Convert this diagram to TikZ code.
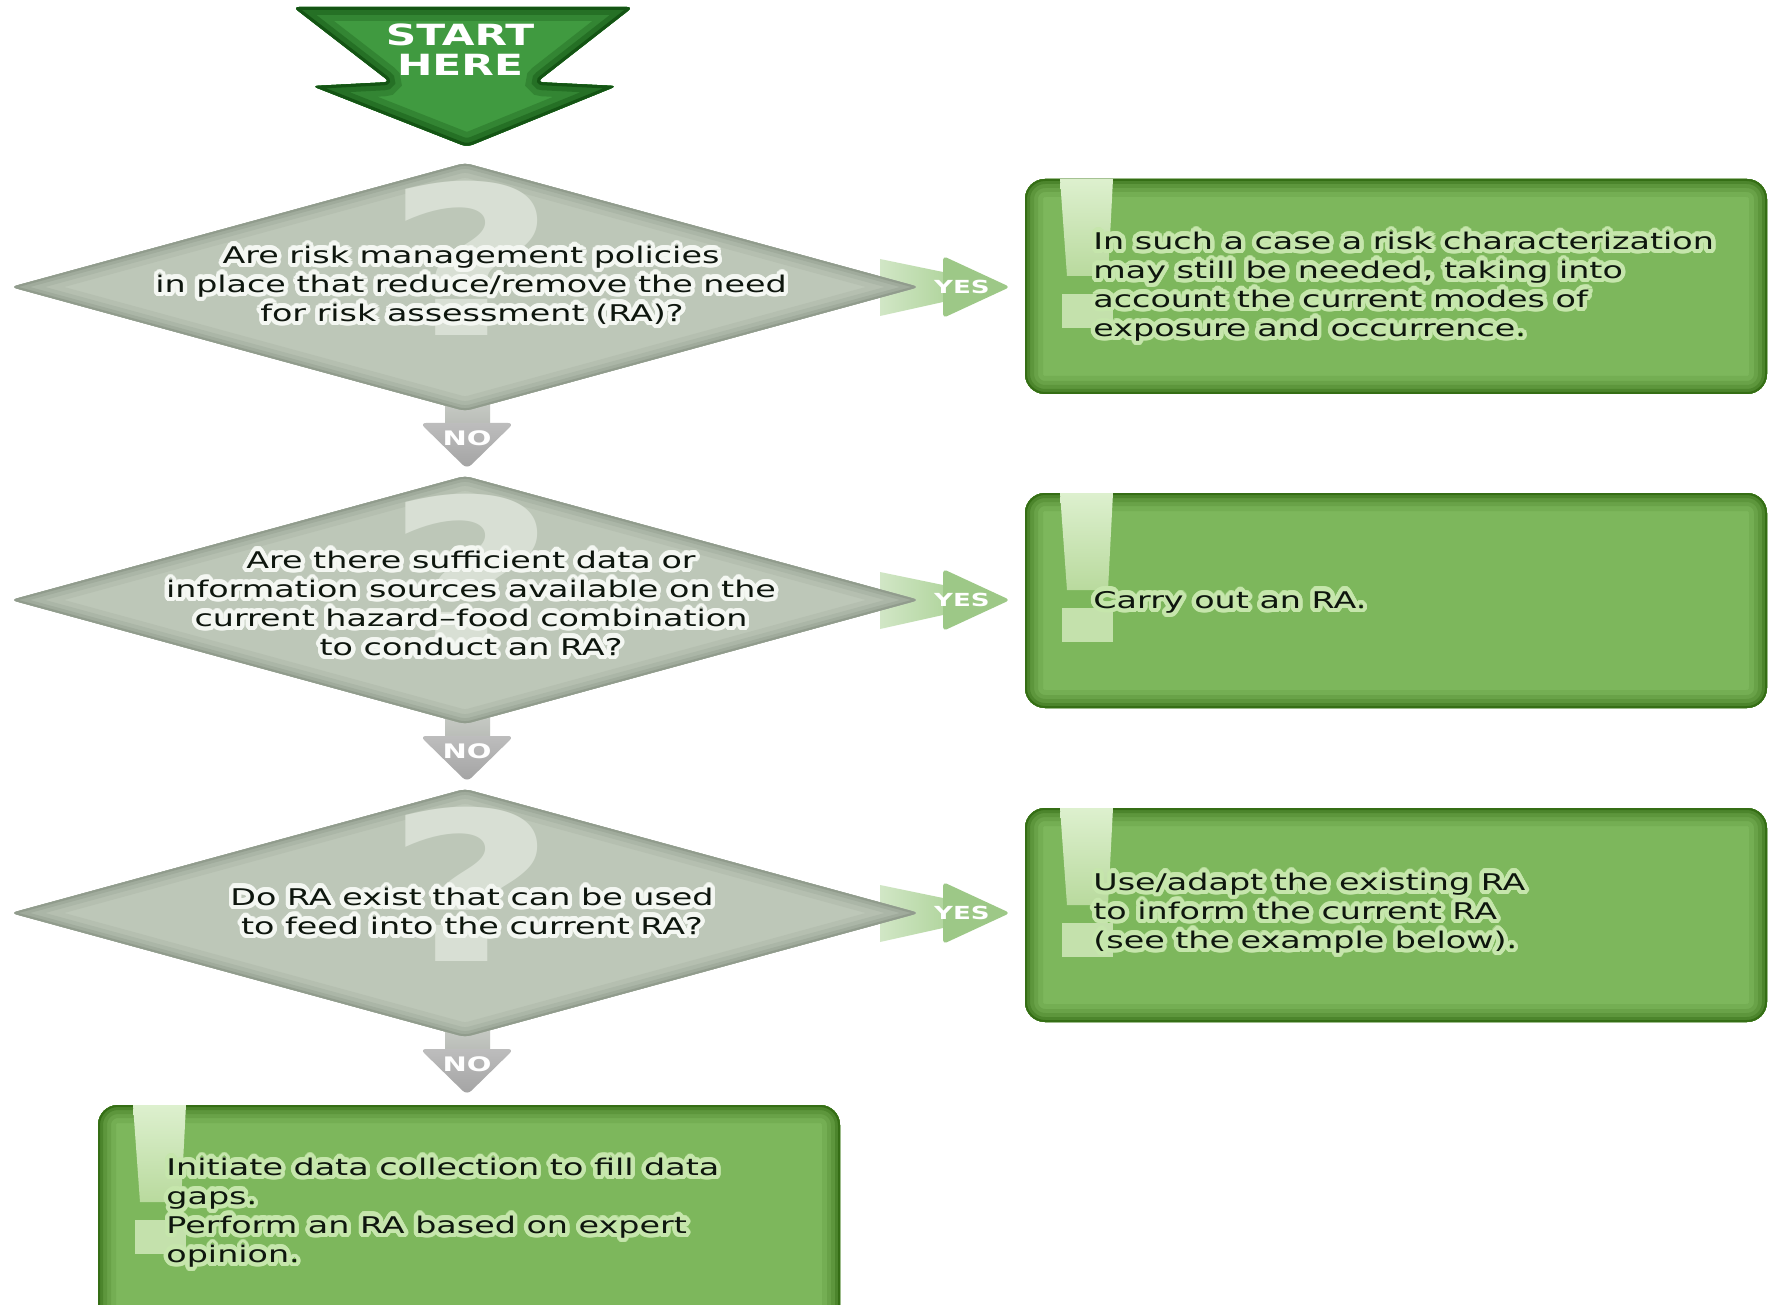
\documentclass[tikz,border=0pt]{standalone}
\usepackage{fontspec}
\usepackage{contour}
\setmainfont{DejaVu Sans}
\newfontfamily\bodyfont[FakeStretch=1.45]{DejaVu Sans}
\newfontfamily\qfont[FakeStretch=1.42]{DejaVu Sans}
\usetikzlibrary{calc}
\contourlength{2.2pt}
\contournumber{24}
\definecolor{diafill}{HTML}{BDC7B8}
\definecolor{diaedge}{HTML}{919C8D}
\definecolor{qmark}{HTML}{D8DFD4}
\definecolor{boxfill}{HTML}{7DB75C}
\definecolor{boxedge}{HTML}{356E15}
\definecolor{excltop}{HTML}{DDF0CE}
\definecolor{exclbot}{HTML}{B9DA9E}
\definecolor{yesA}{HTML}{B3D6A0}
\definecolor{yesB}{HTML}{9DC887}
\definecolor{stemtop}{HTML}{C8CCC6}
\definecolor{stembot}{HTML}{B9BCB7}
\definecolor{notop}{HTML}{BDBDBD}
\definecolor{nobot}{HTML}{A3A3A3}
\definecolor{startdark}{HTML}{145414}
\definecolor{startfill}{HTML}{409A40}
\definecolor{glowwhite}{HTML}{F4F7F2}
\definecolor{glowgreen}{HTML}{C6E6AC}
\definecolor{txt}{HTML}{0E160E}
\newcommand\glowW[1]{\contour{glowwhite}{#1}}
\newcommand\glowG[1]{\contour{glowgreen}{#1}}
% green box with exclamation mark
\newcommand\gbox[4]{%
  \fill[boxedge,rounded corners=10pt] (#1,#2) rectangle (#3,#4);
  \begin{scope}
    \clip[rounded corners=10pt] (#1,#2) rectangle (#3,#4);
    \fill[boxfill] (#1,#2) rectangle (#3,#4);
    \draw[line width=18pt,boxfill!88!boxedge,rounded corners=10pt] (#1,#2) rectangle (#3,#4);
    \draw[line width=13pt,boxfill!72!boxedge,rounded corners=10pt] (#1,#2) rectangle (#3,#4);
    \draw[line width=9pt,boxfill!55!boxedge,rounded corners=10pt] (#1,#2) rectangle (#3,#4);
    \draw[line width=5pt,boxfill!32!boxedge,rounded corners=10pt] (#1,#2) rectangle (#3,#4);
    \draw[line width=2pt,boxedge,rounded corners=10pt] (#1,#2) rectangle (#3,#4);
  \end{scope}
  \shade[top color=excltop,bottom color=exclbot] (#1+35,#2) -- (#1+88,#2) -- (#1+83,#2+97) -- (#1+42,#2+97) -- cycle;
  \fill[exclbot!70!excltop] (#1+37,#2+115) rectangle (#1+88,#2+149);
}
% grey decision diamond with question mark
\newcommand\qdia[3]{%
  \coordinate (#1) at (#2,#3);
  \begin{scope}[shift={(#2,#3)}]
    \begin{scope}
      \clip[rounded corners=3pt] (-454,0) -- (0,-124) -- (454,0) -- (0,124) -- cycle;
      \fill[diafill] (-460,-130) rectangle (460,130);
      \draw[line width=14pt,diafill!82!diaedge,rounded corners=3pt] (-454,0) -- (0,-124) -- (454,0) -- (0,124) -- cycle;
      \draw[line width=9pt,diafill!60!diaedge,rounded corners=3pt] (-454,0) -- (0,-124) -- (454,0) -- (0,124) -- cycle;
      \draw[line width=5pt,diafill!35!diaedge,rounded corners=3pt] (-454,0) -- (0,-124) -- (454,0) -- (0,124) -- cycle;
      \draw[line width=2pt,diaedge,rounded corners=3pt] (-454,0) -- (0,-124) -- (454,0) -- (0,124) -- cycle;
    \end{scope}
    \node[qm] (#1q) at (6,-29) {?};
  \end{scope}
}
% YES block arrow
\newcommand\yesarrow[1]{%
  \shade[left color=yesA!60!white,right color=yesA] (880,#1-28) -- (943,#1-15) -- (943,#1+15) -- (880,#1+29) -- cycle;
  \fill[yesB,rounded corners=2pt] (943,#1-31) -- (1010,#1) -- (943,#1+31) -- cycle;
}
% NO block arrow
\newcommand\noarrow[1]{%
  \shade[top color=stemtop,bottom color=stembot] (445,#1+112) rectangle (490,#1+138);
  \shade[top color=notop,bottom color=nobot,rounded corners=3pt] (420,#1+136) -- (514,#1+136) -- (467,#1+182) -- cycle;
}
\begin{document}
\begin{tikzpicture}[x=0.5pt,y=-0.5pt,
  dline/.style={inner sep=0pt,text=txt,text height=8.6pt,text depth=2.4pt,font=\bodyfont\fontsize{11.5}{14.5}\selectfont},
  bline/.style={dline,anchor=west},
  qm/.style={inner sep=0pt,text=qmark,font=\qfont\bfseries\fontsize{104}{104}\selectfont},
  starttext/.style={align=center,inner sep=0pt,text=white,font=\bodyfont\bfseries\fontsize{14.6}{15}\selectfont},
  notext/.style={inner sep=0pt,text=white,font=\bodyfont\bfseries\fontsize{10}{10}\selectfont},
  yestext/.style={inner sep=0pt,text=white,font=\bodyfont\bfseries\fontsize{9}{10}\selectfont}]
\useasboundingbox (0,0) rectangle (1774,1305);
\begin{scope}
\clip (0,0) rectangle (1774,1305);
\fill[white] (0,0) rectangle (1774,1305);
% start arrow
\begin{scope}
  \clip[rounded corners=3pt] (293,7) -- (633,7) -- (537,82) -- (617,86) -- (467,147) -- (312,86) -- (390,82) -- cycle;
  \fill[startfill] (280,0) rectangle (650,160);
  \draw[line width=14pt,startfill!70!startdark,rounded corners=3pt] (293,7) -- (633,7) -- (537,82) -- (617,86) -- (467,147) -- (312,86) -- (390,82) -- cycle;
  \draw[line width=8pt,startfill!40!startdark,rounded corners=3pt] (293,7) -- (633,7) -- (537,82) -- (617,86) -- (467,147) -- (312,86) -- (390,82) -- cycle;
  \draw[line width=3pt,startdark,rounded corners=3pt] (293,7) -- (633,7) -- (537,82) -- (617,86) -- (467,147) -- (312,86) -- (390,82) -- cycle;
\end{scope}
% block arrows (under the diamonds)
\yesarrow{287}
\yesarrow{600}
\yesarrow{913}
\noarrow{287}
\noarrow{600}
\noarrow{913}
% diamonds
\qdia{d1}{465}{287}
\qdia{d2}{465}{600}
\qdia{d3}{465}{913}
% result boxes
\gbox{1025}{179}{1767}{394}
\gbox{1025}{493}{1767}{708}
\gbox{1025}{808}{1767}{1022}
\gbox{98}{1105}{840}{1345}
\end{scope}

% labels of the block arrows
\node[starttext] (start) at (460,50) {START\\HERE};
\node[yestext] (yes1) at (962,287) {YES};
\node[yestext] (yes2) at (962,600) {YES};
\node[yestext] (yes3) at (962,913) {YES};
\node[notext] (no1) at (467,438) {NO};
\node[notext] (no2) at (467,751) {NO};
\node[notext] (no3) at (467,1064) {NO};

% questions
\node[dline] (t1a) at (471,257) {\glowW{Are risk management policies}};
\node[dline] (t1b) at (471,286) {\glowW{in place that reduce/remove the need}};
\node[dline] (t1c) at (472,315) {\glowW{for risk assessment (RA)?}};
\node[dline] (t2a) at (471,562) {\glowW{Are there sufficient data or}};
\node[dline] (t2b) at (471,591) {\glowW{information sources available on the}};
\node[dline] (t2c) at (471,620) {\glowW{current hazard–food combination}};
\node[dline] (t2d) at (471,649) {\glowW{to conduct an RA?}};
\node[dline] (t3a) at (472,899) {\glowW{Do RA exist that can be used}};
\node[dline] (t3b) at (472,928) {\glowW{to feed into the current RA?}};

% answers
\node[bline] (b1a) at (1093,243) {\glowG{In such a case a risk characterization}};
\node[bline] (b1b) at (1093,272) {\glowG{may still be needed, taking into}};
\node[bline] (b1c) at (1093,301) {\glowG{account the current modes of}};
\node[bline] (b1d) at (1093,330) {\glowG{exposure and occurrence.}};
\node[bline] (b2a) at (1093,602) {\glowG{Carry out an RA.}};
\node[bline] (b3a) at (1093,884) {\glowG{Use/adapt the existing RA}};
\node[bline] (b3b) at (1093,913) {\glowG{to inform the current RA}};
\node[bline] (b3c) at (1093,942) {\glowG{(see the example below).}};
\node[bline] (b4a) at (166,1169) {\glowG{Initiate data collection to fill data}};
\node[bline] (b4b) at (166,1198) {\glowG{gaps.}};
\node[bline] (b4c) at (166,1227) {\glowG{Perform an RA based on expert}};
\node[bline] (b4d) at (166,1256) {\glowG{opinion.}};
\end{tikzpicture}
\end{document}
